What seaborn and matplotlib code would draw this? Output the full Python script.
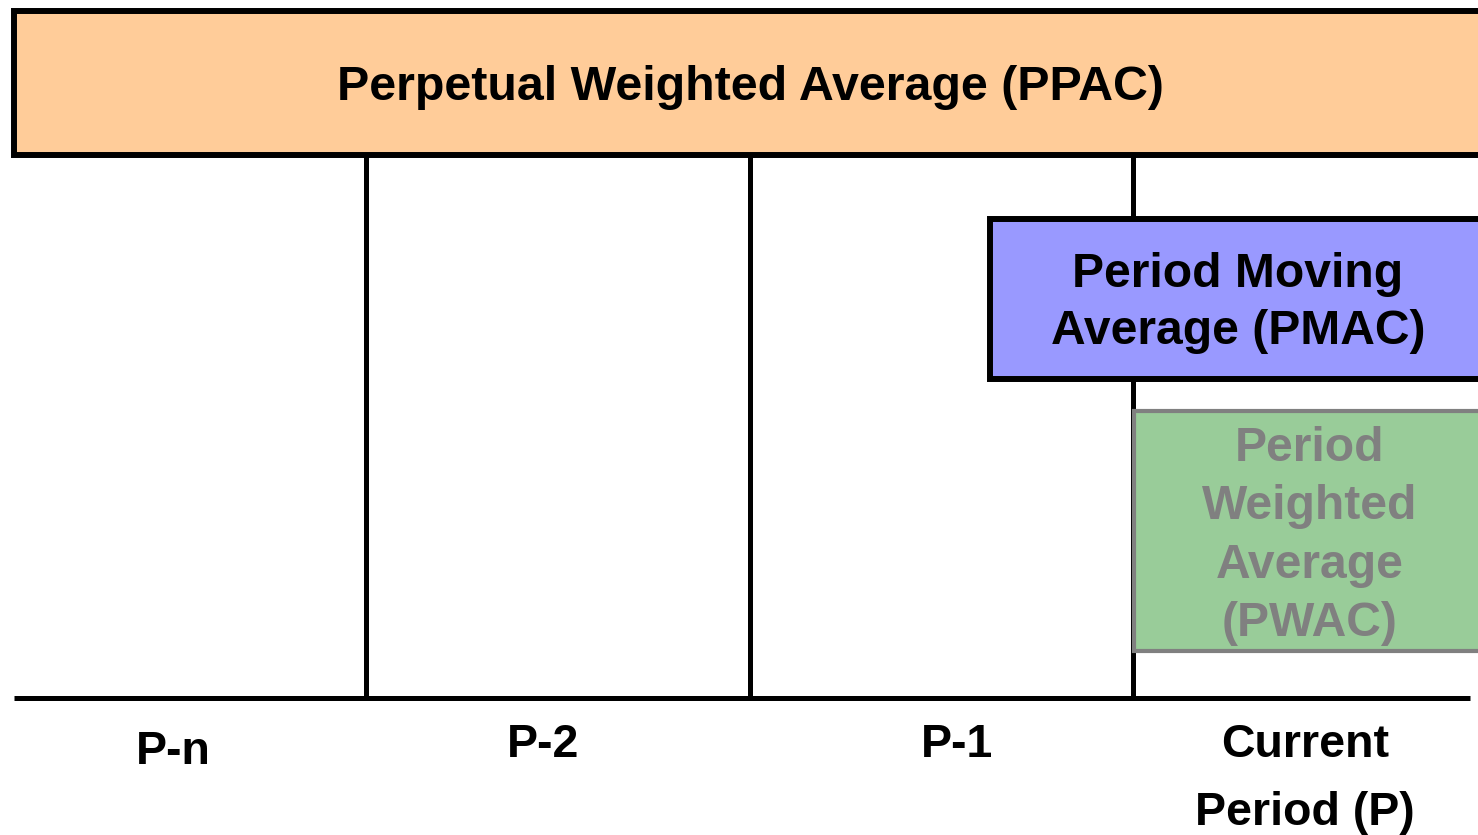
import numpy as np
import matplotlib.pyplot as plt
import seaborn as sns
from matplotlib.patches import Rectangle

# diagram content
period_labels = ["P-n", "P-2", "P-1", "Current\nPeriod (P)"]
box_labels = ["Perpetual Weighted Average (PPAC)",
              "Period Moving\nAverage (PMAC)",
              "Period\nWeighted\nAverage\n(PWAC)"]
box_colors = ["#FFCC99", "#9999FF", "#99CC99"]
box_edges = ["black", "black", "#808080"]
text_colors = ["black", "black", "#808080"]

# layout in pixel units (figure is 1478 x 835)
divider_x = [366, 750, 1133]
label_x = [173, 543, 957, 1305]
label_y = [752, 745, 745, 779]
box_x = [14, 990, 1134]
box_y = [11, 219, 410.5]
box_h = [143.5, 160, 240]
box_lw = [4.3, 4.3, 3.0]
text_xy = [(750, 88), (1238, 303), (1310, 536)]
text_size = [34.8, 34.6, 34.6]
text_spacing = [1.0, 1.32, 1.38]

sns.set_style("white")
plt.rcParams['font.family'] = ['Liberation Sans', 'DejaVu Sans']

fig = plt.figure(figsize=(14.78, 8.35), dpi=100)
ax = fig.add_axes([0, 0, 1, 1])
ax.set_xlim(0, 1478)
ax.set_ylim(835, 0)
ax.axis('off')

# period dividers and the time axis
ax.vlines(divider_x, 154, 697.5, color='black', linewidth=3.6, zorder=1)
ax.hlines(697.5, 14, 1470, color='black', linewidth=3.6, zorder=1)

# the three averaging boxes
for i in range(3):
    ax.add_patch(Rectangle((box_x[i], box_y[i]), 1700, box_h[i],
                           facecolor=box_colors[i], edgecolor=box_edges[i],
                           linewidth=box_lw[i], zorder=2))
    ax.text(text_xy[i][0], text_xy[i][1], box_labels[i], ha='center', va='center',
            fontsize=text_size[i], fontweight='bold', color=text_colors[i],
            linespacing=text_spacing[i], zorder=3)

# period labels
for lx, ly, lab in zip(label_x, label_y, period_labels):
    ax.text(lx, ly, lab, ha='center', va='center', fontsize=33.5,
            fontweight='bold', color='black', linespacing=1.7)

plt.savefig('out.png', dpi=100)
